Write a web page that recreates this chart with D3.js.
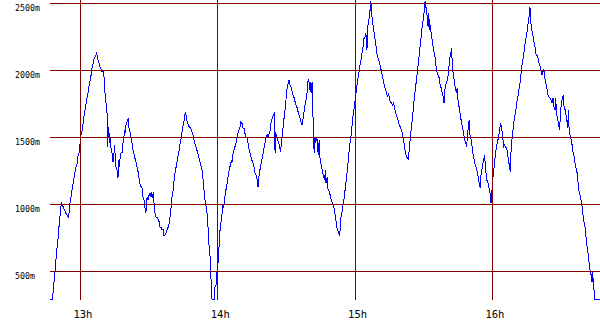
<!DOCTYPE html>
<html>
<head>
<meta charset="utf-8">
<script src="https://cdn.jsdelivr.net/npm/d3@7"></script>
<style>
  html, body { margin: 0; padding: 0; background: #fff; }
  svg { display: block; }
</style>
</head>
<body>
<div id="chart"></div>
<script>
// minutes after 12:00
const times = [
  46.9,47.8,48.2,48.7,49.1,49.5,50.1,50.5,51.0,51.4,
  51.8,52.5,53.0,53.6,54.2,54.6,55.1,55.5,55.9,56.4,
  56.9,57.4,57.9,58.6,59.0,59.4,59.9,60.3,60.9,61.3,
  61.7,62.2,62.7,63.2,63.6,64.0,64.5,64.9,65.4,65.8,
  66.4,67.1,67.5,68.1,68.7,69.3,69.9,70.3,70.8,71.2,
  71.5,71.8,71.9,72.2,72.5,72.8,73.1,73.4,73.8,74.2,
  74.7,74.9,75.2,75.6,76.0,76.4,76.7,77.0,77.3,77.7,
  78.2,78.6,79.0,79.3,79.6,79.9,80.3,80.9,81.2,81.7,
  82.1,82.5,83.0,83.5,84.0,84.4,84.8,85.3,85.7,86.1,
  86.9,87.3,87.8,88.2,88.6,88.9,89.2,89.6,90.1,90.5,
  90.9,91.4,91.8,92.2,92.7,93.1,93.5,94.0,94.4,94.8,
  95.3,95.7,96.2,96.5,96.9,97.3,97.8,98.2,98.6,99.1,
  99.5,99.9,100.4,100.8,101.3,101.7,102.1,102.6,103.0,103.4,
  103.9,104.3,104.7,105.2,105.6,105.9,106.3,106.7,107.2,107.6,
  108.1,108.5,108.9,109.4,109.8,110.2,110.7,111.1,111.5,112.0,
  112.4,112.8,113.3,113.7,114.2,114.6,115.0,115.5,115.9,116.3,
  116.8,117.1,117.5,118.4,118.8,119.3,119.6,120.1,120.4,120.7,
  121.0,121.4,121.9,122.2,122.4,122.9,123.3,123.7,124.2,124.6,
  125.0,125.5,125.9,126.2,126.7,127.1,127.5,128.0,128.4,128.8,
  129.3,129.7,130.1,130.6,131.0,131.5,131.9,132.3,132.8,133.2,
  133.6,134.1,134.5,134.9,135.4,135.8,136.2,136.7,137.1,137.6,
  137.9,138.1,138.6,139.0,139.4,139.9,140.3,140.7,141.2,141.6,
  142.0,142.5,142.9,143.3,143.8,144.2,144.7,144.8,145.1,145.3,
  145.7,146.1,146.6,147.0,147.4,147.9,148.3,148.7,149.2,149.6,
  149.9,150.3,150.8,151.2,151.6,152.1,152.5,152.9,153.4,153.8,
  154.2,154.7,155.1,155.5,156.0,156.4,156.9,157.3,157.7,158.2,
  158.6,159.0,159.3,159.8,160.1,160.3,160.8,161.2,161.5,161.8,
  162.1,162.4,162.8,163.3,163.7,164.0,164.3,164.6,165.0,165.4,
  165.9,166.3,166.7,167.0,167.3,167.8,168.1,168.5,168.9,169.4,
  169.8,170.2,170.7,171.1,171.5,172.0,172.4,172.8,173.3,173.6,
  173.8,174.3,174.7,175.2,175.6,176.0,176.5,176.9,177.3,177.8,
  178.2,178.6,179.1,179.5,179.9,180.4,180.8,181.3,181.7,182.1,
  182.6,183.0,183.4,183.9,184.3,184.7,185.2,185.3,185.8,186.2,
  186.7,186.9,187.2,187.7,188.1,188.5,189.0,189.4,189.8,190.3,
  190.7,191.1,191.6,192.0,192.5,192.9,193.3,193.8,194.2,194.6,
  195.1,195.5,195.9,196.4,196.8,197.2,197.7,198.1,198.5,199.0,
  199.4,199.9,200.3,200.7,201.2,201.6,202.0,202.5,202.9,203.3,
  203.8,204.2,204.6,205.1,205.5,205.9,206.4,206.8,207.3,207.7,
  208.1,208.6,209.0,209.4,209.9,210.3,210.6,210.9,211.3,211.6,
  211.9,212.2,212.5,212.8,213.2,213.7,214.1,214.5,215.0,215.4,
  215.8,216.3,216.7,217.2,217.6,218.0,218.5,218.9,219.2,219.6,
  220.0,220.5,220.9,221.3,221.8,222.2,222.5,223.0,223.4,223.8,
  224.3,224.6,224.8,225.3,225.7,226.1,226.6,227.0,227.4,227.9,
  228.3,228.7,229.2,229.6,229.9,230.2,230.5,230.9,231.4,231.8,
  232.2,232.7,233.1,233.5,234.0,234.4,234.7,235.0,235.5,235.9,
  236.3,236.6,236.9,237.2,237.6,238.1,238.5,238.9,239.4,239.8,
  240.1,240.5,240.9,241.4,241.8,242.2,242.7,243.1,243.6,244.0,
  244.4,244.9,245.3,245.7,246.2,246.6,247.0,247.5,247.8,248.1,
  248.3,248.7,249.1,249.5,250.0,250.4,250.8,251.3,251.7,252.1,
  252.6,253.0,253.5,253.9,254.3,254.8,255.2,255.6,256.1,256.4,
  256.6,256.9,257.4,257.8,258.2,258.7,259.1,259.5,260.0,260.4,
  260.9,261.3,261.7,262.2,262.6,263.0,263.5,263.9,264.3,264.8,
  265.2,265.6,266.1,266.5,266.9,267.4,267.7,267.9,268.4,268.8,
  269.3,269.7,270.1,270.6,270.9,271.2,271.6,272.0,272.5,272.9,
  273.2,273.5,273.9,274.4,274.8,275.2,275.7,276.1,276.5,277.0,
  277.4,277.8,278.3,278.7,279.2,279.6,280.0,280.5,280.9,281.3,
  281.8,282.2,282.6,283.1,283.5,283.8,284.1,284.4,284.7,287.0
];

// metres
const values = [
  290,290,375,460,530,635,720,810,900,980,
  1005,980,960,935,920,905,945,1020,1055,1120,
  1165,1220,1270,1310,1370,1385,1460,1530,1555,1630,
  1680,1725,1780,1815,1870,1905,1945,2005,2040,2080,
  2100,2130,2090,2055,2020,1995,1990,1950,1815,1755,
  1705,1645,1430,1575,1530,1460,1505,1405,1385,1315,
  1390,1445,1355,1270,1255,1195,1330,1280,1345,1385,
  1390,1460,1505,1555,1530,1590,1615,1645,1575,1540,
  1505,1460,1405,1370,1330,1310,1270,1235,1180,1145,
  1120,1055,1030,975,935,1030,1055,1030,1085,1055,
  1090,1045,1090,995,920,900,905,885,870,830,
  825,810,810,770,770,785,810,825,845,900,
  960,1045,1090,1160,1235,1270,1310,1355,1390,1445,
  1480,1530,1575,1615,1665,1690,1645,1615,1590,1575,
  1570,1555,1530,1505,1465,1445,1420,1390,1370,1330,
  1310,1280,1240,1165,1070,1010,975,905,785,660,
  585,415,290,290,385,400,490,560,635,735,
  810,870,935,995,975,1020,1085,1120,1165,1220,
  1255,1295,1330,1310,1385,1405,1430,1460,1505,1530,
  1555,1575,1615,1605,1570,1570,1530,1505,1495,1460,
  1420,1385,1355,1330,1310,1280,1240,1220,1195,1130,
  1180,1235,1270,1310,1345,1390,1430,1465,1505,1520,
  1505,1530,1555,1615,1645,1665,1680,1460,1385,1540,
  1505,1480,1460,1430,1390,1465,1530,1605,1680,1740,
  1800,1870,1905,1930,1890,1870,1840,1815,1795,1765,
  1740,1720,1690,1665,1645,1615,1590,1645,1690,1755,
  1780,1830,1915,1930,1855,1915,1830,1915,1705,1555,
  1385,1505,1460,1505,1405,1370,1480,1355,1310,1280,
  1235,1205,1180,1255,1160,1205,1120,1105,1085,1045,
  1020,1010,980,945,900,830,810,785,770,860,
  900,945,995,1045,1105,1165,1240,1310,1385,1460,
  1505,1575,1665,1705,1765,1830,1890,1945,1990,2040,
  2080,2130,2165,2240,2250,2280,2150,2300,2355,2400,
  2475,2520,2430,2355,2315,2250,2205,2135,2100,2080,
  2055,2020,1990,1950,1915,1875,1855,1830,1800,1830,
  1780,1765,1755,1740,1755,1725,1680,1665,1645,1615,
  1590,1570,1555,1520,1480,1430,1385,1355,1345,1330,
  1445,1505,1575,1650,1725,1800,1870,1930,2005,2060,
  2135,2205,2280,2340,2390,2465,2520,2475,2450,2355,
  2325,2430,2300,2340,2280,2225,2175,2135,2090,2025,
  1990,1965,1945,1890,1870,1840,1800,1755,1855,1890,
  1915,1945,2005,2090,2130,2165,2020,1965,1915,1870,
  1830,1870,1795,1740,1705,1650,1605,1570,1530,1480,
  1465,1430,1530,1615,1630,1520,1505,1460,1390,1355,
  1310,1295,1255,1235,1180,1145,1120,1220,1270,1310,
  1345,1370,1280,1235,1180,1160,1120,1090,1010,1105,
  1180,1240,1310,1385,1430,1465,1505,1555,1605,1570,
  1520,1430,1445,1430,1420,1385,1330,1280,1240,1385,
  1460,1505,1575,1630,1680,1725,1780,1815,1870,1915,
  1990,2055,2100,2150,2205,2250,2300,2355,2415,2475,
  2400,2340,2285,2250,2210,2165,2115,2115,2090,2055,
  2025,1990,1965,2005,1990,1930,1890,1855,1815,1800,
  1795,1780,1755,1795,1725,1705,1795,1680,1645,1605,
  1555,1665,1755,1795,1815,1740,1720,1680,1630,1570,
  1705,1555,1520,1480,1445,1390,1355,1310,1270,1235,
  1165,1105,1070,1030,980,920,870,825,755,695,
  635,570,510,475,420,495,400,360,290,290
];

const hourTicks = [60, 120, 180, 240];
const hourLabels = ["13h", "14h", "15h", "16h"];
const valueTicks = [500, 1000, 1500, 2000, 2500];
const valueLabels = ["500m", "1000m", "1500m", "2000m", "2500m"];

const W = 600, H = 330;
const plot = {left: 50, right: 600, top: 0, bottom: 299.5};

const svg = d3.select("#chart").append("svg")
    .attr("width", W).attr("height", H);

const x = d3.scaleLinear().domain([46.7, 287]).range([50, 600]);
const y = d3.scaleLinear().domain([290, 2500]).range([299.5, 3.5]);

const data = d3.zip(times, values);

var line = d3.line()
    .x(function(d) { return x(d[0]); })
    .y(function(d) { return y(d[1]); });

svg.append("path")
    .datum(data)
    .attr("fill", "none")
    .attr("stroke", "#0000ff")
    .attr("stroke-width", 1)
    .attr("shape-rendering", "crispEdges")
    .attr("d", line);

// grid on top of the line
const grid = svg.append("g")
    .attr("stroke", "#800000")
    .attr("stroke-width", 1)
    .attr("shape-rendering", "crispEdges");

grid.selectAll("line.h").data(valueTicks).enter().append("line")
    .attr("class", "h")
    .attr("x1", plot.left).attr("x2", plot.right)
    .attr("y1", d => Math.floor(y(d)) + 0.5)
    .attr("y2", d => Math.floor(y(d)) + 0.5);

grid.selectAll("line.v").data(hourTicks).enter().append("line")
    .attr("class", "v")
    .attr("x1", d => Math.floor(x(d)) + 0.5)
    .attr("x2", d => Math.floor(x(d)) + 0.5)
    .attr("y1", plot.top).attr("y2", plot.bottom);

svg.append("g").selectAll("text").data(valueTicks).enter().append("text")
    .attr("x", 15)
    .attr("y", d => Math.floor(y(d)) + 7.5)
    .attr("font-family", "DejaVu Sans Mono")
    .attr("font-size", "8.3px")
    .attr("fill", "#000")
    .text((d, i) => valueLabels[i]);

svg.append("g").selectAll("text").data(hourTicks).enter().append("text")
    .attr("x", d => x(d) + 2.5)
    .attr("y", 317.5)
    .attr("text-anchor", "middle")
    .attr("font-family", "DejaVu Sans Mono")
    .attr("font-size", "10.5px")
    .attr("fill", "#000")
    .text((d, i) => hourLabels[i]);
</script>
</body>
</html>
